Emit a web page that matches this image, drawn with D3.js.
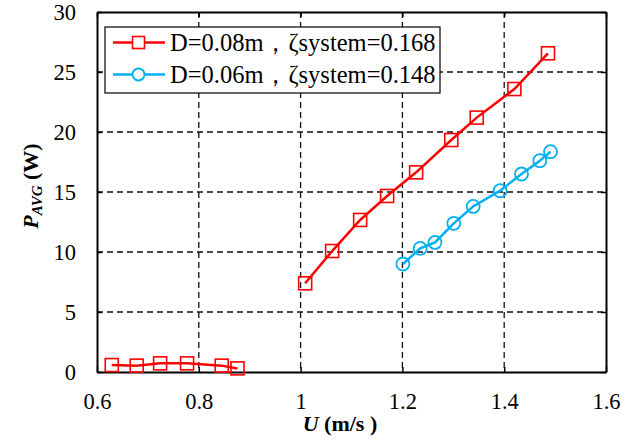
<!DOCTYPE html>
<html><head><meta charset="utf-8"><script src="https://cdn.jsdelivr.net/npm/d3@7"></script></head><body style="margin:0">
<svg id="c" width="638" height="441"></svg>
<script>
const redU = [0.629, 0.678, 0.724, 0.777, 0.845, 0.876, null, 1.009, 1.062, 1.117, 1.170, 1.227, 1.296, 1.346, 1.420, 1.486];
const redP = [0.58, 0.53, 0.72, 0.72, 0.53, 0.30, null, 7.39, 10.08, 12.67, 14.67, 16.64, 19.33, 21.2, 23.58, 26.56];
const blueU = [1.201, 1.235, 1.264, 1.301, 1.339, 1.392, 1.434, 1.470, 1.491];
const blueP = [9.0, 10.3, 10.8, 12.39, 13.8, 15.11, 16.5, 17.61, 18.36];
const xTicks = [0.6, 0.8, 1.0, 1.2, 1.4, 1.6];
const xTickLabels = ["0.6", "0.8", "1", "1.2", "1.4", "1.6"];
const yTicks = [0, 5, 10, 15, 20, 25, 30];
const legendLabels = ["D=0.08m，ζsystem=0.168", "D=0.06m，ζsystem=0.148"];
const colors = ["#FF0000", "#00B0F0"];

const svg = d3.select("#c");
const L = 97, R = 606, T = 12, B = 372;
const x = d3.scaleLinear().domain([0.6, 1.6]).range([L, R]);
const y = d3.scaleLinear().domain([0, 30]).range([B, T]);
const FF = "Times New Roman";

const g = svg.append("g");
g.selectAll(".vg").data(xTicks.slice(1, -1)).join("line")
  .attr("x1", d => x(d)).attr("x2", d => x(d)).attr("y1", T).attr("y2", B)
  .attr("stroke", "#111").attr("stroke-width", 1.3).attr("stroke-dasharray", "6,4");
g.selectAll(".hg").data(yTicks.slice(1, -1)).join("line")
  .attr("y1", d => y(d)).attr("y2", d => y(d)).attr("x1", L).attr("x2", R)
  .attr("stroke", "#111").attr("stroke-width", 1.3).attr("stroke-dasharray", "6,4");

const axB = d3.axisBottom(x).tickValues(xTicks).tickSizeInner(-5).tickSizeOuter(0).tickPadding(21)
  .tickFormat((d, i) => xTickLabels[i]);
const axT = d3.axisTop(x).tickValues(xTicks).tickSizeInner(-5).tickSizeOuter(0).tickFormat("");
const axL = d3.axisLeft(y).tickValues(yTicks).tickSizeInner(-5).tickSizeOuter(0).tickPadding(21);
const axR = d3.axisRight(y).tickValues(yTicks).tickSizeInner(-5).tickSizeOuter(0).tickFormat("");
function styleAxis(sel) {
  sel.attr("font-family", FF).attr("font-size", 22);
  sel.selectAll("path").attr("stroke", "#000").attr("stroke-width", 2);
  sel.selectAll("line").attr("stroke", "#000").attr("stroke-width", 1.5);
  sel.selectAll("text").attr("font-family", FF).attr("font-size", 22.5).attr("fill", "#000");
}
svg.append("g").attr("transform", `translate(0,${B})`).call(axB).call(styleAxis);
svg.append("g").attr("transform", `translate(0,${T})`).call(axT).call(styleAxis);
svg.append("g").attr("transform", `translate(${L},0)`).call(axL).call(styleAxis);
svg.append("g").attr("transform", `translate(${R},0)`).call(axR).call(styleAxis);

const redData = redU.map((u, i) => ({u, p: redP[i]}));
const blueData = blueU.map((u, i) => ({u, p: blueP[i]}));
const line = d3.line().defined(d => d.u !== null).x(d => x(d.u)).y(d => y(d.p));
svg.append("path").datum(redData).attr("d", line).attr("fill", "none")
  .attr("stroke", colors[0]).attr("stroke-width", 2.5);
svg.append("path").datum(blueData).attr("d", line).attr("fill", "none")
  .attr("stroke", colors[1]).attr("stroke-width", 2.5);
const sq = 13;
svg.selectAll(".sq").data(redData.filter(d => d.u !== null)).join("rect")
  .attr("x", d => x(d.u) - sq / 2).attr("y", d => y(d.p) - sq / 2)
  .attr("width", sq).attr("height", sq).attr("fill", "none")
  .attr("stroke", colors[0]).attr("stroke-width", 1.6);
svg.selectAll(".ci").data(blueData).join("circle")
  .attr("cx", d => x(d.u)).attr("cy", d => y(d.p)).attr("r", 6.5)
  .attr("fill", "none").attr("stroke", colors[1]).attr("stroke-width", 1.8);

const lg = svg.append("g");
lg.append("rect").attr("x", 105).attr("y", 27).attr("width", 335).attr("height", 66)
  .attr("fill", "#fff").attr("stroke", "#000").attr("stroke-width", 1.2);
[42.5, 74.5].forEach((cy, i) => {
  lg.append("line").attr("x1", 113).attr("x2", 165).attr("y1", cy).attr("y2", cy)
    .attr("stroke", colors[i]).attr("stroke-width", 2.5);
  if (i === 0) {
    lg.append("rect").attr("x", 138.5 - 6).attr("y", cy - 6).attr("width", 12).attr("height", 12)
      .attr("fill", "#fff").attr("stroke", colors[0]).attr("stroke-width", 1.6);
  } else {
    lg.append("circle").attr("cx", 138.5).attr("cy", cy).attr("r", 6)
      .attr("fill", "#fff").attr("stroke", colors[1]).attr("stroke-width", 1.8);
  }
  lg.append("text").attr("x", 170).attr("y", cy + 8.5).attr("font-family", FF)
    .attr("font-size", 24.5).attr("fill", "#000").text(legendLabels[i]);
});

const xt = svg.append("text").attr("x", 340).attr("y", 431).attr("text-anchor", "middle")
  .attr("font-family", FF).attr("font-size", 22).attr("font-weight", "bold");
xt.append("tspan").attr("font-style", "italic").text("U");
xt.append("tspan").text(" (m/s )");

const yt = svg.append("text").attr("transform", `translate(38,186) rotate(-90)`)
  .attr("text-anchor", "middle").attr("font-family", FF).attr("font-size", 22).attr("font-weight", "bold");
yt.append("tspan").attr("font-style", "italic").text("P");
yt.append("tspan").attr("font-style", "italic").attr("font-size", 15).attr("dy", 4).text("AVG");
yt.append("tspan").attr("dy", -4).text(" (W)");
</script>
</body></html>
